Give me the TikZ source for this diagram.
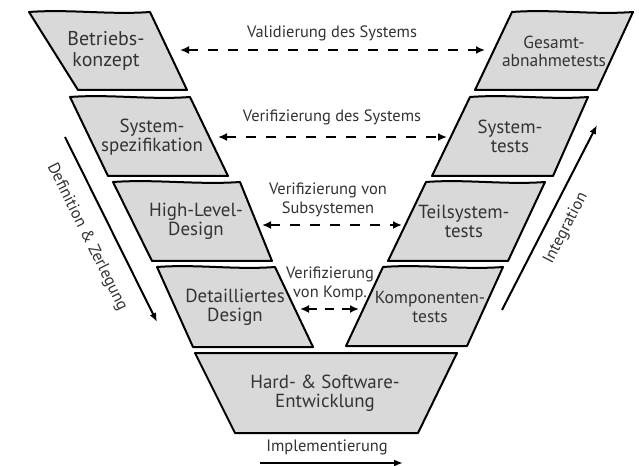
\documentclass[tikz,border=0pt]{standalone}
\usepackage{fontspec}
\setmainfont{PT Sans}
\usetikzlibrary{arrows.meta}
\begin{document}
\begin{tikzpicture}[x=1bp,y=-1bp,
  box/.style={draw=black,fill=black!15,line width=2bp,line join=round},
  lbl/.style={font=\fontsize{19}{19}\selectfont,align=center,inner sep=0pt,text=black!80},
  slbl/.style={font=\fontsize{16.5}{18.5}\selectfont,align=center,inner sep=0pt,text=black!80},
  darrow/.style={{Latex[length=9bp,width=8bp]}-{Latex[length=9bp,width=8bp]},line width=2.6bp,dash pattern=on 10bp off 10bp},
  sarrow/.style={-{Latex[length=9bp,width=7bp]},line width=2bp}]
\useasboundingbox (0,0) rectangle (639,466);
% left boxes
\path[box] (29,12) .. controls (70,9) and (110,15) .. (150,12) -- (187,90) -- (78,90) -- cycle;
\path[box] (70,97) .. controls (110,94) and (150,100) .. (190,97) -- (228,176) -- (108,176) -- cycle;
\path[box] (113,182) .. controls (155,179) and (198,185) .. (240,182) -- (272,261) -- (152,261) -- cycle;
\path[box] (157,267) .. controls (197,264) and (235,270) .. (275,267) -- (313,347) -- (193,347) -- cycle;
\path[box] (195,353) -- (457,353) -- (418,433) -- (235,433) -- cycle;
% right boxes
\path[box] (512,12) .. controls (552,9) and (593,15) .. (633,12) -- (597,90) -- (475,90) -- cycle;
\path[box] (470,97) .. controls (510,94) and (548,100) .. (588,97) -- (553,176) -- (432,176) -- cycle;
\path[box] (426,182) .. controls (466,179) and (505,185) .. (545,182) -- (508,261) -- (388,261) -- cycle;
\path[box] (383,267) .. controls (423,264) and (463,270) .. (503,267) -- (467,346) -- (346,346) -- cycle;
% box texts
\node[lbl,font=\fontsize{20}{21}\selectfont] (bk) at (106,51) {Betriebs-\\konzept};
\node[lbl] (ss) at (152,137) {System-\\spezifikation};
\node[lbl] (hl) at (196,221) {High-Level-\\Design};
\node[lbl] (dd) at (235,307) {Detailliertes\\Design};
\node[lbl] (hs) at (325,393) {Hard- \& Software-\\Entwicklung};
\node[lbl,font=\fontsize{17.5}{18}\selectfont] (ga) at (554,51) {Gesamt-\\abnahmetests};
\node[lbl] (st) at (510,136) {System-\\tests};
\node[lbl] (ts) at (464,221) {Teilsystem-\\tests};
\node[lbl,font=\fontsize{17.5}{18.5}\selectfont] (kt) at (430,307) {Komponenten-\\tests};
% arrow end points
\coordinate (a1l) at (180,50); \coordinate (a1r) at (485,50);
\coordinate (a2l) at (218,137); \coordinate (a2r) at (447,137);
\coordinate (a3l) at (262,225); \coordinate (a3r) at (402,225);
\coordinate (a4l) at (300,309); \coordinate (a4r) at (359,309);
\draw[darrow] (a1l) -- (a1r);
\draw[darrow] (a2l) -- (a2r);
\draw[darrow] (a3l) -- (a3r);
\draw[darrow,dash pattern=on 9bp off 8bp] (a4l) -- (a4r);
% arrow labels
\node[slbl] (v1) at (332,33) {Validierung des Systems};
\node[slbl] (v2) at (332,117) {Verifizierung des Systems};
\node[slbl] (v3) at (328,200) {Verifizierung von\\Subsystemen};
\node[slbl] (v4) at (330,284) {Verifizierung\\von Komp.};
% side arrows
\coordinate (dl1) at (65,137); \coordinate (dl2) at (157,322);
\draw[sarrow] (dl1) -- (dl2);
\node[slbl,rotate=-63.6] (def) at (87,237) {Definition \& Zerlegung};
\coordinate (in1) at (502,310); \coordinate (in2) at (597,125);
\draw[sarrow] (in1) -- (in2);
\node[slbl,rotate=62.8] (int) at (566,228) {Integration};
\coordinate (im1) at (260,463); \coordinate (im2) at (403,463);
\draw[sarrow] (im1) -- (im2);
\node[slbl] (imp) at (327,447) {Implementierung};
\end{tikzpicture}
\end{document}
